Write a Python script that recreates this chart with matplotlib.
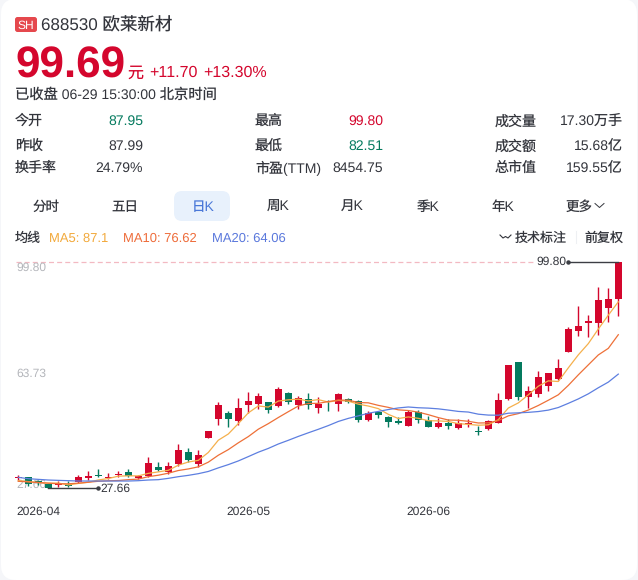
import matplotlib
matplotlib.use('Agg')
import matplotlib.pyplot as plt
from matplotlib.patches import FancyBboxPatch

plt.rcParams['font.family'] = ['Liberation Sans', 'Noto Sans CJK SC']
plt.rcParams['text.hinting'] = 'no_hinting'
plt.rcParams['text.hinting_factor'] = 1

RED = '#d4062d'
GREEN = '#047a5e'
DARK = '#33353c'
GREY = '#b4b6bb'

# daily candles
opens = [30.83, 31.36, 29.98, 29.03, 28.60, 28.71, 29.77, 30.83, 31.79, 30.83,
         31.90, 32.85, 31.04, 31.68, 34.45, 32.96, 35.40, 39.33, 35.51, 43.58,
         49.85, 51.66, 49.22, 54.32, 54.53, 55.06, 53.89, 58.14, 54.21, 56.23,
         53.26, 55.49, 54.53, 56.02, 55.49, 49.54, 51.98, 50.49, 49.22, 47.62,
         51.87, 49.44, 47.20, 48.59, 46.78, 48.05, 46.03, 46.46, 48.59, 56.02,
         67.93, 56.77, 57.83, 60.27, 62.51, 71.10, 77.90, 80.24, 80.35, 85.02,
         87.95]
closes = [31.36, 28.92, 29.66, 27.86, 28.92, 28.39, 31.15, 31.58, 31.58, 31.15,
          32.21, 31.68, 31.47, 35.61, 33.49, 34.77, 39.76, 36.57, 38.27, 46.03,
          54.32, 49.64, 53.15, 55.38, 57.08, 52.51, 59.21, 55.17, 56.44, 54.21,
          54.64, 55.27, 57.82, 55.27, 49.43, 51.66, 51.13, 48.69, 48.58, 51.98,
          49.54, 47.20, 48.48, 47.63, 48.48, 48.48, 45.72, 49.22, 55.81, 66.97,
          56.66, 58.57, 63.04, 64.31, 65.91, 78.43, 79.28, 80.98, 87.57, 87.99,
          99.69]
highs = [31.90, 31.36, 30.30, 29.24, 30.09, 29.98, 31.79, 33.28, 33.91, 32.43,
         33.17, 33.70, 32.00, 37.74, 36.15, 36.15, 41.67, 40.40, 39.87, 46.03,
         55.06, 52.41, 56.34, 58.25, 57.93, 55.27, 59.84, 58.36, 57.08, 57.93,
         56.66, 55.81, 57.93, 56.55, 55.81, 52.19, 52.41, 50.81, 50.28, 52.62,
         52.62, 50.71, 49.97, 49.65, 49.65, 49.86, 47.52, 49.44, 57.94, 66.97,
         67.93, 60.27, 64.95, 64.53, 68.88, 78.97, 85.87, 82.90, 91.93, 91.61,
         99.80]
lows = [30.30, 28.49, 28.71, 27.66, 28.18, 28.18, 29.24, 30.30, 31.36, 30.62,
        31.36, 31.15, 30.51, 31.36, 33.06, 32.21, 34.87, 36.04, 34.55, 43.58,
        47.84, 47.30, 47.84, 51.77, 52.94, 51.77, 53.68, 54.42, 52.94, 52.94,
        51.55, 52.41, 52.41, 54.74, 48.90, 49.11, 50.17, 47.30, 48.05, 47.62,
        48.58, 47.10, 46.78, 46.67, 46.67, 47.10, 44.65, 46.25, 48.59, 55.81,
        55.81, 53.26, 56.87, 58.79, 62.19, 71.10, 76.20, 75.78, 76.52, 80.77,
        82.51]

# moving averages
ma5 = [30.10, 29.80, 29.50, 29.30, 29.34, 28.75, 29.20, 29.58, 30.32, 30.77,
       31.53, 31.64, 31.62, 32.42, 32.89, 33.40, 35.02, 36.04, 36.57, 39.08,
       42.99, 44.97, 48.28, 51.70, 53.91, 53.55, 55.47, 55.87, 56.08, 55.51,
       55.93, 55.15, 55.68, 55.44, 54.49, 53.89, 53.06, 51.24, 49.90, 50.41,
       49.98, 49.20, 49.16, 48.97, 48.27, 48.05, 47.76, 47.91, 49.54, 53.24,
       54.88, 57.45, 60.21, 61.91, 61.70, 66.05, 70.19, 73.78, 78.43, 82.85,
       87.10]
ma10 = [29.90, 29.70, 29.50, 29.30, 29.10, 29.10, 29.30, 29.60, 29.90, 30.06,
        30.14, 30.42, 30.60, 31.37, 31.83, 32.47, 33.33, 33.83, 34.50, 35.99,
        38.20, 39.99, 42.16, 44.14, 46.50, 48.27, 50.22, 52.08, 53.89, 54.71,
        54.74, 55.31, 55.77, 55.76, 55.00, 54.91, 54.10, 53.46, 52.67, 52.45,
        51.94, 51.13, 50.20, 49.43, 49.34, 49.02, 48.48, 48.53, 49.25, 50.75,
        51.47, 52.60, 54.06, 55.73, 57.47, 60.46, 63.82, 67.00, 70.17, 72.27,
        76.62]
ma20 = [31.15, 30.73, 30.51, 30.30, 30.19, 30.09, 29.98, 29.98, 29.98, 29.98,
        29.98, 29.98, 30.09, 30.30, 30.41, 30.83, 31.36, 31.79, 32.32, 33.03,
        34.17, 35.21, 36.38, 37.76, 39.17, 40.37, 41.78, 42.96, 44.20, 45.35,
        46.47, 47.65, 48.97, 49.95, 50.75, 51.59, 52.16, 52.77, 53.28, 53.58,
        53.34, 53.22, 52.99, 52.60, 52.17, 51.97, 51.29, 51.00, 50.96, 51.60,
        51.71, 51.87, 52.13, 52.58, 53.41, 54.74, 56.15, 57.77, 59.71, 61.51,
        64.06]

axis_levels = [99.80, 63.73, 27.66]
month_labels = ['2026-04', '2026-05', '2026-06']
month_pos = [0, 21, 39]

stats = [
    [('今开', '87.95', GREEN), ('最高', '99.80', RED), ('成交量', '17.30万手', DARK)],
    [('昨收', '87.99', DARK), ('最低', '82.51', GREEN), ('成交额', '15.68亿', DARK)],
    [('换手率', '24.79%', DARK), ('市盈(TTM)', '8454.75', DARK), ('总市值', '159.55亿', DARK)],
]
tabs = ['分时', '五日', '日K', '周K', '月K', '季K', '年K', '更多']
tab_x = [46, 125, 203, 278, 352, 428, 503, 579]


def px(size):
    # font sizes below are given in pixels at 100 dpi
    return size * 0.72


fig = plt.figure(figsize=(6.38, 5.8), dpi=100, facecolor='#f5f6f9')

# page layer in pixel coordinates
page = fig.add_axes([0, 0, 1, 1])
page.set_xlim(0, 638)
page.set_ylim(580, 0)
page.axis('off')
page.add_patch(FancyBboxPatch((1, -1), 636, 581, boxstyle='round,pad=0,rounding_size=15',
                              fc='white', ec='none'))


def label(x, y, s, size=14, color=DARK, ha='left', **kw):
    page.text(x, y, s, fontsize=px(size), color=color, ha=ha, va='center_baseline', **kw)


# header
page.add_patch(FancyBboxPatch((15, 17), 22, 15, boxstyle='round,pad=0,rounding_size=2.5',
                              fc='#e5484d', ec='none'))
label(26, 24.5, 'SH', 12, 'white', ha='center')
label(41, 24, '688530 欧莱新材', 17.5)
label(15, 62, '99.69', 44, RED, fontweight='bold')
label(127, 72, '元', 16, RED)
label(149, 71, '+11.70', 15.7, RED)
label(203, 71, '+13.30%', 15.7, RED)
label(15, 93, '已收盘 06-29 15:30:00 北京时间', 14.3)

# quote table
for row, y in zip(stats, [120, 145, 167]):
    for (name, value, color), left, right in zip(row, [15, 255, 495], [143, 383, 623]):
        label(left, y, name, 14)
        label(right, y, value, 14, color, ha='right')

# period tabs
page.add_patch(FancyBboxPatch((174, 191), 56, 30, boxstyle='round,pad=0,rounding_size=8',
                              fc='#e8f1fc', ec='none'))
for name, x in zip(tabs, tab_x):
    label(x, 206, name, 13.5, '#4a78d8' if name == '日K' else DARK, ha='center')
page.plot([595, 599.5, 604], [203.5, 207.5, 203.5], color=DARK, lw=0.7)

# moving average legend
label(15, 237, '均线', 13)
label(49, 237, f'MA5: {ma5[-1]:.1f}', 13, '#f2a93b')
label(123, 237, f'MA10: {ma10[-1]:.2f}', 13, '#ee6c3a')
label(212, 237, f'MA20: {ma20[-1]:.2f}', 13, '#5a78dc')
page.plot([500, 503, 505.5, 508, 511], [235, 238, 236.5, 238, 235], color=DARK, lw=0.8)
label(515, 237, '技术标注', 13)
page.plot([575.5, 575.5], [231, 243], color='#eef0f3', lw=0.8)
label(584, 237, '前复权', 13)

# price chart, 3.137 px per yuan with the high at y=262
chart = fig.add_axes([0, 80 / 580, 1, 250 / 580])
chart.set_xlim(-1.83, 61.97)
chart.set_ylim(99.80 - 238 / 3.137, 99.80 + 12 / 3.137)
chart.axis('off')
chart.patch.set_alpha(0)

days = range(len(closes))
high = max(highs)
low = min(lows)
high_day = highs.index(high)
low_day = lows.index(low)

chart.plot([-0.2, 51.6], [high, high], color='#f3b9c2', lw=0.9, ls=(0, (4, 2.5)), zorder=1)

for i in days:
    up = closes[i] >= opens[i]
    color = RED if up else GREEN
    chart.plot([i, i], [lows[i], highs[i]], color=color, lw=1.0, zorder=2,
               solid_capstyle='butt')
    bottom = min(opens[i], closes[i])
    height = max(abs(closes[i] - opens[i]), 0.3)
    chart.bar(i, height, bottom=bottom, width=0.68, color=color, zorder=2)

chart.plot(days, ma5, color='#f5b04c', lw=0.9, zorder=3)
chart.plot(days, ma10, color='#ee7038', lw=0.9, zorder=3)
chart.plot(days, ma20, color='#5d7fe0', lw=0.9, zorder=3)

# axis levels sit inside the plot at the left edge
chart.text(-0.2, axis_levels[0] - 1.9, f'{axis_levels[0]:.2f}', fontsize=px(12.3), color=GREY,
           ha='left', va='center', zorder=1)
chart.text(-0.2, axis_levels[1] + 0.6, f'{axis_levels[1]:.2f}', fontsize=px(12.3), color=GREY,
           ha='left', va='center', zorder=1)
chart.text(-0.2, axis_levels[2] + 1.2, f'{axis_levels[2]:.2f}', fontsize=px(12.3), color=GREY,
           ha='left', va='center', zorder=1)

# high and low markers
chart.plot([high_day - 5, high_day], [high, high], color='#3c3e44', lw=1.0, zorder=4)
chart.plot(high_day - 5, high, 'o', color='#3c3e44', ms=2.2, zorder=4)
chart.text(high_day - 5.2, high, f'{high:.2f}', fontsize=px(12.3), color=DARK,
           ha='right', va='center', zorder=4)
chart.plot([low_day, low_day + 5], [low, low], color='#3c3e44', lw=1.0, zorder=4)
chart.plot(low_day + 5, low, 'o', color='#3c3e44', ms=2.2, zorder=4)
chart.text(low_day + 5.2, low, f'{low:.2f}', fontsize=px(12.3), color=DARK,
           ha='left', va='center', zorder=4)

for pos, text in zip(month_pos, month_labels):
    chart.text(pos - 0.2, 99.80 - 250 / 3.137, text, fontsize=px(12.3), color=DARK,
               ha='left', va='center', clip_on=False)

fig.savefig('out.png', dpi=100, facecolor=fig.get_facecolor())
